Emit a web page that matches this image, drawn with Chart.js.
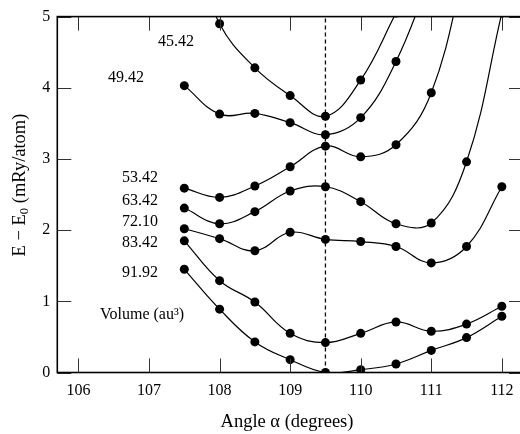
<!DOCTYPE html>
<html><head><meta charset="utf-8">
<script src="https://cdn.jsdelivr.net/npm/chart.js@4"></script>
<style>html,body{margin:0;padding:0;background:#fff;overflow:hidden}#wrap{width:520px;height:434px;overflow:hidden;position:relative}canvas{display:block}</style>
</head><body><div id="wrap"><canvas id="c" width="532" height="434"></canvas></div>
<script>
// Angle alpha (degrees)
const angles = [107.5, 108, 108.5, 109, 109.5, 110, 110.5, 111, 111.5, 112];
// Volume labels (au^3)
const volumes = ['45.42', '49.42', '53.42', '63.42', '72.10', '83.42', '91.92'];
// E - E0 (mRy/atom) per volume; values above 5 lie outside the plotted frame
const e4542 = [6.2, 4.90, 4.28, 3.89, 3.60, 4.11, 5.05, null, null, null];
const e4942 = [4.03, 3.63, 3.64, 3.51, 3.34, 3.58, 4.37, 5.6, null, null];
const e5342 = [2.59, 2.46, 2.62, 2.89, 3.18, 3.03, 3.20, 3.93, 5.8, null];
const e6342 = [2.31, 2.09, 2.26, 2.55, 2.61, 2.40, 2.09, 2.10, 2.96, 5.05];
const e7210 = [2.02, 1.88, 1.71, 1.97, 1.87, 1.84, 1.77, 1.54, 1.77, 2.61];
const e8342 = [1.85, 1.29, 0.99, 0.55, 0.42, 0.55, 0.71, 0.58, 0.68, 0.93];
const e9192 = [1.45, 0.89, 0.43, 0.18, 0.00, 0.04, 0.12, 0.31, 0.49, 0.79];
const series = [e4542, e4942, e5342, e6342, e7210, e8342, e9192];
const xTicks = [106, 107, 108, 109, 110, 111, 112];
const yTicks = [0, 1, 2, 3, 4, 5];
const refAngle = 109.5;

const FONT = "'Liberation Serif', 'Times New Roman', serif";
Chart.defaults.font.family = FONT;
Chart.defaults.color = '#000';

const datasets = [{
  label: 'ref',
  data: [{x: refAngle, y: 0}, {x: refAngle, y: 5}],
  borderColor: '#000', borderWidth: 1.3, borderDash: [4, 3],
  pointRadius: 0, tension: 0, clip: 0
}];
series.forEach((s, i) => {
  datasets.push({
    label: volumes[i],
    data: angles.map((a, j) => s[j] === null ? null : {x: a, y: s[j]}).filter(p => p),
    borderColor: '#000', borderWidth: 1.2,
    pointRadius: 4.5, pointBackgroundColor: '#000', pointBorderWidth: 0,
    tension: 0.4, clip: 0
  });
});

const labelPos = [
  [158, 42], [108, 78], [122, 178], [122, 201], [122, 222], [122, 243], [122, 273]
];

const deco = {
  id: 'deco',
  afterDraw(chart) {
    const ctx = chart.ctx, a = chart.chartArea;
    const xs = chart.scales.x, ys = chart.scales.y;
    ctx.save();
    // ticks (inward)
    ctx.strokeStyle = '#333'; ctx.lineWidth = 1;
    ctx.beginPath();
    xTicks.forEach(v => {
      const px = Math.round(xs.getPixelForValue(v)) + 0.5;
      ctx.moveTo(px, a.bottom); ctx.lineTo(px, a.bottom - 14);
      ctx.moveTo(px, a.top); ctx.lineTo(px, a.top + 14);
    });
    yTicks.forEach(v => {
      const py = Math.round(ys.getPixelForValue(v)) + 0.5;
      ctx.moveTo(a.left, py); ctx.lineTo(a.left + 14, py);
      ctx.moveTo(a.right, py); ctx.lineTo(a.right - 14, py);
    });
    ctx.stroke();
    // frame
    ctx.strokeStyle = '#000'; ctx.lineWidth = 1.6;
    ctx.strokeRect(a.left, a.top, a.right - a.left, a.bottom - a.top);
    // volume labels
    ctx.fillStyle = '#000';
    ctx.font = '16px ' + FONT;
    ctx.textAlign = 'left'; ctx.textBaseline = 'middle';
    volumes.forEach((v, i) => ctx.fillText(v, labelPos[i][0], labelPos[i][1]));
    ctx.fillText('Volume (au\u00B3)', 100, 315);
    // x title
    ctx.font = '18.5px ' + FONT;
    ctx.textAlign = 'center'; ctx.textBaseline = 'alphabetic';
    ctx.fillText('Angle \u03B1 (degrees)', 287, 427);
    // y title with subscript
    const p1 = 'E \u2212 E', p2 = '0', p3 = ' (mRy/atom)';
    ctx.font = '18.5px ' + FONT;
    const w1 = ctx.measureText(p1).width, w3 = ctx.measureText(p3).width;
    ctx.font = '12.5px ' + FONT;
    const w2 = ctx.measureText(p2).width;
    const total = w1 + w2 + w3;
    ctx.translate(18, 185);
    ctx.rotate(-Math.PI / 2);
    ctx.textAlign = 'left'; ctx.textBaseline = 'alphabetic';
    let x0 = -total / 2;
    ctx.font = '18.5px ' + FONT;
    ctx.fillText(p1, x0, 7);
    ctx.font = '12.5px ' + FONT;
    ctx.fillText(p2, x0 + w1, 10);
    ctx.font = '18.5px ' + FONT;
    ctx.fillText(p3, x0 + w1 + w2, 7);
    ctx.restore();
  }
};

new Chart(document.getElementById('c'), {
  type: 'line',
  data: {datasets},
  options: {
    responsive: false, animation: false, devicePixelRatio: 1,
    layout: {padding: {top: 10, right: 9, left: 0, bottom: 0}},
    plugins: {legend: {display: false}, tooltip: {enabled: false}},
    elements: {line: {capBezierPoints: false}},
    scales: {
      x: {
        type: 'linear', min: 105.7, max: 112.3,
        grid: {display: false, drawTicks: false}, border: {display: false},
        ticks: {stepSize: 1, includeBounds: false, padding: 9, font: {size: 16}, color: '#000'},
        afterFit: s => { s.height = 61.5; }
      },
      y: {
        type: 'linear', min: 0, max: 5,
        grid: {display: false, drawTicks: false}, border: {display: false},
        ticks: {stepSize: 1, padding: 7, font: {size: 16}, color: '#000'},
        afterFit: s => { s.width = 57.3; }
      }
    }
  },
  plugins: [deco]
});
</script></body></html>
